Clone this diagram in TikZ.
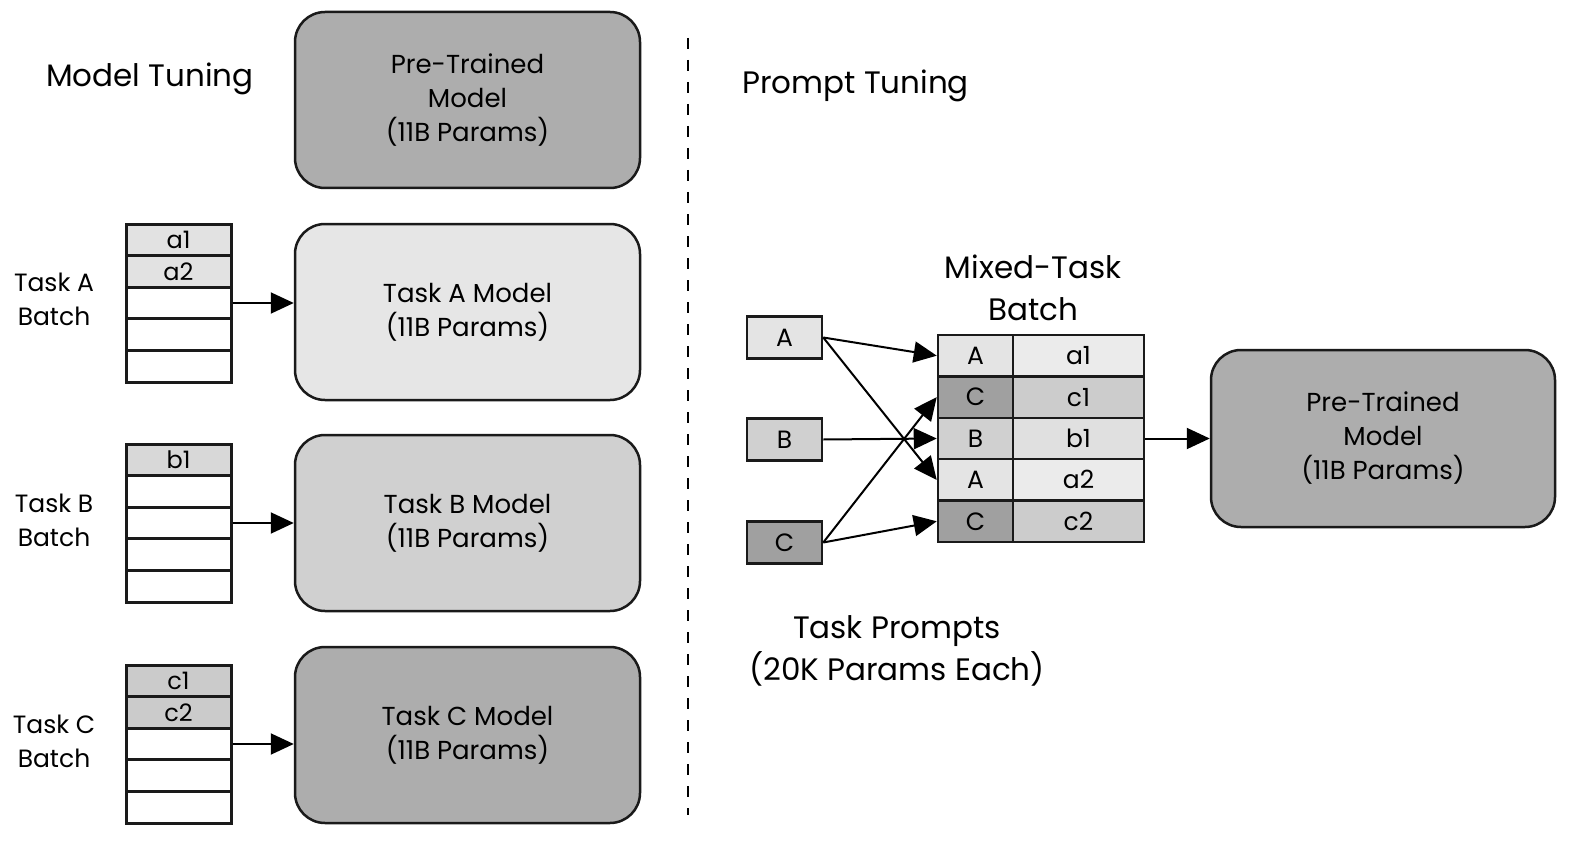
\documentclass[tikz,border=0pt]{standalone}
\usepackage{fontspec}
\setmainfont{Poppins}
\usetikzlibrary{arrows.meta}
\definecolor{boxlight}{HTML}{E6E6E6}
\definecolor{boxmid}{HTML}{D0D0D0}
\definecolor{boxdark}{HTML}{ADADAD}
\definecolor{rowA}{HTML}{E2E2E2}
\definecolor{rowB}{HTML}{D8D8D8}
\definecolor{rowC}{HTML}{CBCBCB}
\definecolor{cellA}{HTML}{E4E4E4}
\definecolor{cellB}{HTML}{D0D0D0}
\definecolor{cellC}{HTML}{A0A0A0}
\definecolor{cella}{HTML}{EBEBEB}
\definecolor{cellb}{HTML}{E0E0E0}
\definecolor{cellc}{HTML}{CCCCCC}
\definecolor{linecol}{HTML}{1A1A1A}
\begin{document}
\begin{tikzpicture}[x=1pt,y=-1pt,
  model/.style={draw=linecol, line width=2.5pt, rounded corners=30pt, minimum width=345pt, minimum height=176pt, align=center, inner sep=0pt, font=\fontsize{26}{34}\selectfont},
  cell/.style={draw=linecol, line width=3pt, minimum width=105pt, minimum height=31.6pt, inner sep=0pt, font=\fontsize{24}{28}\selectfont},
  pbox/.style={draw=linecol, line width=2.5pt, minimum width=75pt, minimum height=42pt, inner sep=0pt, font=\fontsize{25}{28}\selectfont},
  tcell/.style={draw=linecol, line width=2.5pt, minimum height=41.4pt, inner sep=0pt, font=\fontsize{25}{28}\selectfont},
  lab/.style={align=center, inner sep=0pt, font=\fontsize{25}{34}\selectfont},
  title/.style={inner sep=0pt, font=\fontsize{31}{40}\selectfont},
  arr/.style={line width=2pt, draw=black, -{Triangle[length=23pt,width=21pt]}}]
\useasboundingbox (0,0) rectangle (1576,845);
\fill[white] (0,0) rectangle (1576,845);

% ---- left: model tuning ----
\node[title, anchor=west] (mt) at (46,79) {Model Tuning};
\node[model, fill=boxdark] (ptl) at (467.5,100) {Pre-Trained\\Model\\(11B Params)};
\node[model, fill=boxlight] (ma) at (467.5,312) {Task A Model\\(11B Params)};
\node[model, fill=boxmid] (mb) at (467.5,523) {Task B Model\\(11B Params)};
\node[model, fill=boxdark] (mc) at (467.5,735) {Task C Model\\(11B Params)};

\foreach \i/\t/\f in {1/a1/rowA,2/a2/rowA,3//white,4//white,5//white}
  \node[cell, fill=\f] (sa\i) at (178.5,{224+15.8+31.6*(\i-1)}) {\t};
\foreach \i/\t/\f in {1/b1/rowB,2//white,3//white,4//white,5//white}
  \node[cell, fill=\f] (sb\i) at (178.5,{444+15.8+31.6*(\i-1)}) {\t};
\foreach \i/\t/\f in {1/c1/rowC,2/c2/rowC,3//white,4//white,5//white}
  \node[cell, fill=\f] (sc\i) at (178.5,{665+15.8+31.6*(\i-1)}) {\t};

\node[lab] (la) at (54,299) {Task A\\Batch};
\node[lab] (lb) at (54,520) {Task B\\Batch};
\node[lab] (lc) at (54,741) {Task C\\Batch};

\draw[arr] (sa3.east) -- (sa3.east -| ma.west);
\draw[arr] (sb3.east) -- (sb3.east -| mb.west);
\draw[arr] (sc3.east) -- (sc3.east -| mc.west);

% ---- divider ----
\coordinate (dtop) at (688,38);
\coordinate (dbot) at (688,815);
\draw[line width=2pt, dash pattern=on 11pt off 11pt] (dtop) -- (dbot);

% ---- right: prompt tuning ----
\node[title, anchor=west] (pt) at (742,86) {Prompt Tuning};
\node[title, align=center, font=\fontsize{31}{42}\selectfont] (mtb) at (1033,288) {Mixed-Task\\Batch};

\node[pbox, fill=cellA] (pA) at (784.5,337.5) {A};
\node[pbox, fill=cellB] (pB) at (784.5,439.5) {B};
\node[pbox, fill=cellC] (pC) at (784.5,542.5) {C};

\foreach \i/\L/\l/\fL/\fl in {1/A/a1/cellA/cella,2/C/c1/cellC/cellc,3/B/b1/cellB/cellb,4/A/a2/cellA/cella,5/C/c2/cellC/cellc}{
  \node[tcell, fill=\fL, minimum width=75pt] (L\i) at (975.5,{335+20.7+41.4*(\i-1)}) {\L};
  \node[tcell, fill=\fl, minimum width=131pt] (R\i) at (1078.5,{335+20.7+41.4*(\i-1)}) {\l};
}

\draw[arr] (pA.east) -- (L1.west);
\draw[arr] (pA.east) -- (L4.west);
\draw[arr] (pB.east) -- (L3.west);
\draw[arr] (pC.east) -- (L2.west);
\draw[arr] (pC.east) -- (L5.west);

\node[model, fill=boxdark, minimum width=344pt, minimum height=177pt] (ptr) at (1383,438.5) {Pre-Trained\\Model\\(11B Params)};
\draw[arr] (R3.east) -- (R3.east -| ptr.west);

\node[title, align=center, font=\fontsize{31}{42}\selectfont] (tp) at (897,651) {Task Prompts\\(20K Params Each)};
\end{tikzpicture}
\end{document}
